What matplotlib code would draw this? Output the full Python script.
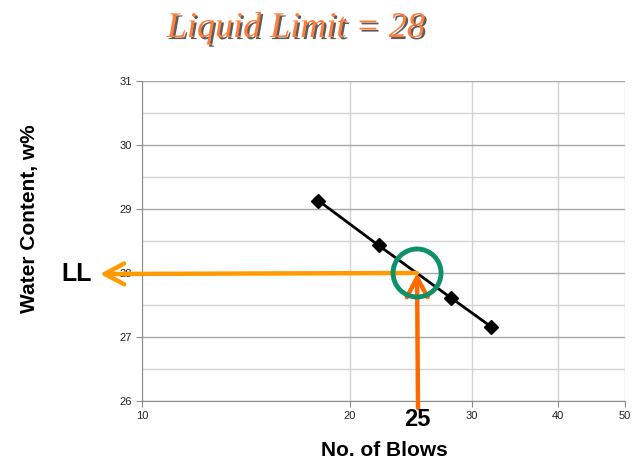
import matplotlib
matplotlib.use('Agg')
import matplotlib.pyplot as plt
import matplotlib.patheffects as pe
from matplotlib.patches import Circle

# data
blows = [18, 22, 28, 32]
water = [29.13, 28.43, 27.61, 27.16]
ll_blows = 25
ll_value = 28
x_ticks = [10, 20, 30, 40, 50]
y_ticks = [26, 27, 28, 29, 30, 31]

plt.rcParams['font.family'] = ['Liberation Sans', 'DejaVu Sans']

fig = plt.figure(figsize=(6.34, 4.63), dpi=100)
ax = fig.add_axes([0.224, 0.134, 0.762, 0.691])

ax.set_xscale('log')
ax.set_xlim(10, 50)
ax.set_ylim(26, 31)
ax.set_xticks(x_ticks)
ax.set_xticklabels([str(t) for t in x_ticks])
ax.xaxis.set_minor_locator(matplotlib.ticker.NullLocator())
ax.set_yticks(y_ticks)
ax.set_yticks([26.5, 27.5, 28.5, 29.5, 30.5], minor=True)

ax.grid(True, which='major', axis='y', color='#a8a8a8', linewidth=1)
ax.grid(True, which='minor', axis='y', color='#d4d4d4', linewidth=1)
ax.grid(True, which='major', axis='x', color='#d4d4d4', linewidth=1)
ax.set_axisbelow(True)

for s in ['top', 'right']:
    ax.spines[s].set_visible(False)
for s in ['left', 'bottom']:
    ax.spines[s].set_color('#8c8c8c')
ax.tick_params(axis='both', which='major', labelsize=8, colors='#8c8c8c',
               labelcolor='#222222', length=4)
ax.tick_params(axis='y', which='minor', length=0)

# flow curve
ax.plot(blows, water, color='black', linewidth=2, marker='D', markersize=7,
        zorder=3)

# arrows to the liquid limit
head = '->,head_length=1.4,head_width=0.75'
ax.annotate('', xy=(100 / 634, 1 - 274 / 463), xycoords='figure fraction',
            xytext=(ll_blows, ll_value), textcoords='data',
            arrowprops=dict(arrowstyle=head, color='#ff9a00', linewidth=3.2,
                            shrinkA=0, shrinkB=0),
            annotation_clip=False, zorder=4)
ax.annotate('', xy=(ll_blows, ll_value), xycoords='data',
            xytext=(418 / 634, 1 - 408 / 463), textcoords='figure fraction',
            arrowprops=dict(arrowstyle=head, color='#ff6a00', linewidth=3.2,
                            shrinkA=0, shrinkB=0),
            annotation_clip=False, zorder=4)

# green circle around the LL point, in pixels
cx, cy = ax.transData.transform((ll_blows, ll_value))
circ = Circle((cx, cy), radius=24, transform=None, fill=False,
              edgecolor='#0e9168', linewidth=3.5, zorder=5)
fig.add_artist(circ)

fig.text(77 / 634, 1 - 274 / 463, 'LL', fontsize=18, fontweight='bold',
         ha='center', va='center')
fig.text(417 / 634, 1 - 420 / 463, '25', fontsize=17, fontweight='bold',
         ha='center', va='center')
fig.text(384 / 634, 1 - 451 / 463, 'No. of Blows', fontsize=15,
         fontweight='bold', ha='center', va='center')
fig.text(30 / 634, 1 - 219 / 463, 'Water Content, w%', fontsize=15,
         fontweight='bold', ha='center', va='center', rotation=90)

fig.text(296 / 634, 1 - 37 / 463, 'Liquid Limit = 28', fontsize=26,
         family='Liberation Serif', style='italic', color='#ff7d3c',
         ha='center', va='baseline',
         path_effects=[pe.withSimplePatchShadow(offset=(1.5, -1.5),
                                                shadow_rgbFace='#333333',
                                                alpha=0.8)])

fig.savefig('out.png', dpi=100)
